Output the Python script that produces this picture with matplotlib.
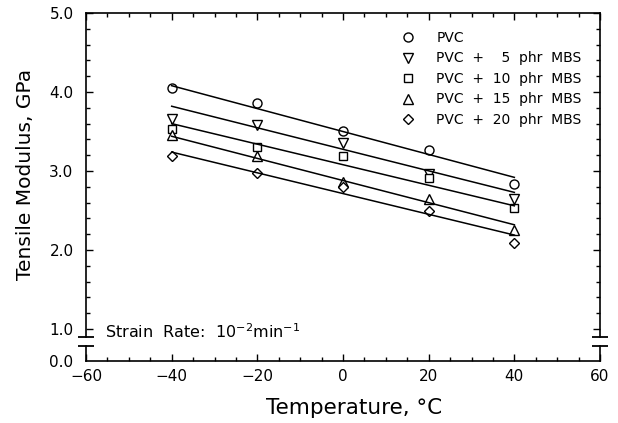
import matplotlib
matplotlib.use('Agg')
import matplotlib.pyplot as plt
import numpy as np
from matplotlib.ticker import MultipleLocator, FormatStrFormatter

# data
temps = [-40, -20, 0, 20, 40]
pvc = [4.05, 3.86, 3.51, 3.27, 2.84]
mbs5 = [3.66, 3.58, 3.36, 2.96, 2.64]
mbs10 = [3.53, 3.31, 3.19, 2.91, 2.53]
mbs15 = [3.46, 3.19, 2.86, 2.65, 2.25]
mbs20 = [3.19, 2.97, 2.80, 2.50, 2.09]

# straight fit lines, value at -40 and at 40 C
fit_temps = [-40, 40]
fit_lo = [4.08, 3.82, 3.60, 3.44, 3.24]
fit_hi = [2.92, 2.73, 2.56, 2.32, 2.19]

labels = ['PVC', 'PVC  +    5  phr  MBS', 'PVC  +  10  phr  MBS',
          'PVC  +  15  phr  MBS', 'PVC  +  20  phr  MBS']
markers = ['o', 'v', 's', '^', 'D']
msizes = [6.5, 7, 5.5, 7, 5]
series = [pvc, mbs5, mbs10, mbs15, mbs20]

plt.rcParams['font.family'] = ['DejaVu Sans']

fig = plt.figure(figsize=(6.18, 4.23), dpi=100)
ax = fig.add_axes([0.1392, 0.2033, 0.8317, 0.766])
ax2 = fig.add_axes([0.1392, 0.1466, 0.8317, 0.0355])

for i in range(len(series)):
    ax.plot(temps, series[i], linestyle='none', marker=markers[i], ms=msizes[i],
            mfc='white', mec='black', mew=1.0, label=labels[i])
    ax.plot(fit_temps, [fit_lo[i], fit_hi[i]], color='black', lw=1.1)

ax.set_xlim(-60, 60)
ax.set_ylim(0.9, 5.0)
ax2.set_xlim(-60, 60)
ax2.set_ylim(0, 0.19)

# upper part
ax.spines['bottom'].set_visible(False)
for s in ['top', 'left', 'right']:
    ax.spines[s].set_linewidth(1.2)
ax.xaxis.set_major_locator(MultipleLocator(20))
ax.xaxis.set_minor_locator(MultipleLocator(5))
ax.yaxis.set_major_locator(MultipleLocator(1.0))
ax.yaxis.set_minor_locator(MultipleLocator(0.2))
ax.yaxis.set_major_formatter(FormatStrFormatter('%.1f'))
ax.tick_params(which='both', direction='in', top=True, bottom=False,
               left=True, right=True, labelbottom=False, width=1)
ax.tick_params(which='major', length=5, labelsize=11, pad=9)
ax.tick_params(which='minor', length=3)

# lower part
ax2.spines['top'].set_visible(False)
for s in ['bottom', 'left', 'right']:
    ax2.spines[s].set_linewidth(1.2)
ax2.set_xticks([-60, -40, -20, 0, 20, 40, 60])
ax2.set_xticklabels(['\u221260', '\u221240', '\u221220', '0', '20', '40', '60'])
ax2.xaxis.set_minor_locator(MultipleLocator(5))
ax2.set_yticks([0.0])
ax2.set_yticklabels(['0.0'])
ax2.tick_params(axis='y', direction='in', length=0, labelsize=11, pad=9)
ax2.tick_params(axis='x', which='both', direction='in', top=False, width=1)
ax2.tick_params(axis='x', which='major', length=5, labelsize=11, pad=6)
ax2.tick_params(axis='x', which='minor', length=3)

# break caps
for a, yy in [(ax, 0), (ax2, 1)]:
    a.plot([0, 1], [yy, yy], transform=a.transAxes, linestyle='none',
           marker='_', ms=11, mew=1.3, color='black', clip_on=False)

ax.text(-55.5, 0.97, 'Strain  Rate:  10$^{-2}$min$^{-1}$', fontsize=11.5,
        va='center', ha='left')

leg = ax.legend(loc='upper left', bbox_to_anchor=(0.603, 0.962), frameon=False,
                fontsize=10, handlelength=1.0, handletextpad=1.5,
                labelspacing=0.47, borderaxespad=0)

fig.text(26 / 618, 1 - 174 / 423, 'Tensile Modulus, GPa', rotation=90,
         ha='center', va='center', fontsize=14.5)
fig.text(354 / 618, 1 - 408 / 423, 'Temperature, \u00b0C',
         ha='center', va='center', fontsize=15.5)

fig.savefig('out.png', dpi=100)
